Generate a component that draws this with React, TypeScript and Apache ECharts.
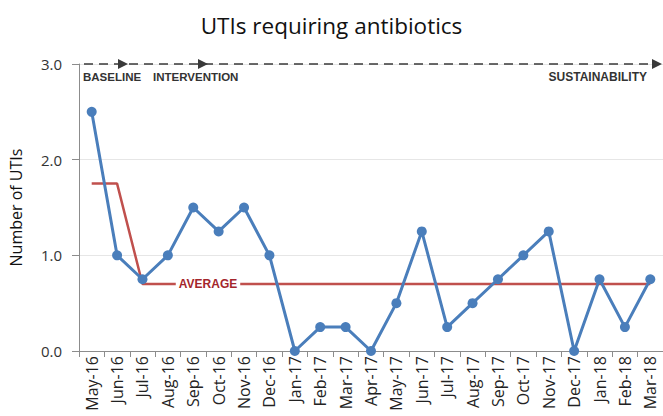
import React, { useEffect, useRef } from "react";
import * as echarts from "echarts";

const months = ["May-16","Jun-16","Jul-16","Aug-16","Sep-16","Oct-16","Nov-16","Dec-16","Jan-17","Feb-17","Mar-17","Apr-17","May-17","Jun-17","Jul-17","Aug-17","Sep-17","Oct-17","Nov-17","Dec-17","Jan-18","Feb-18","Mar-18"];
const utis = [2.5,1.0,0.75,1.0,1.5,1.25,1.5,1.0,0,0.25,0.25,0,0.5,1.25,0.25,0.5,0.75,1.0,1.25,0,0.75,0.25,0.75];
const average = [1.75,1.75,0.7,0.7,0.7,0.7,0.7,0.7,0.7,0.7,0.7,0.7,0.7,0.7,0.7,0.7,0.7,0.7,0.7,0.7,0.7,0.7,0.7];
const phaseLabels = ["BASELINE", "INTERVENTION", "SUSTAINABILITY"];
const yTicks = [0, 1, 2, 3];

export default function App() {
  const ref = useRef<HTMLDivElement>(null);
  useEffect(() => {
    if (!ref.current) return;
    const chart = echarts.init(ref.current, null, { renderer: "svg" });
    const arrow = (x: number, y: number) => ({
      type: "polygon",
      shape: { points: [[x - 9, y - 5], [x + 1, y], [x - 9, y + 5]] },
      style: { fill: "#3a3a3a" },
      z: 10,
    });
    const phaseStyle = { fontFamily: "Liberation Sans", fontSize: 11.5, fontWeight: "bold", fill: "#333" };
    chart.setOption({
      animation: false,
      backgroundColor: "#ffffff",
      title: {
        text: "UTIs requiring antibiotics",
        left: "center",
        top: 9,
        textStyle: { fontFamily: "Open Sans", fontSize: 22.5, fontWeight: "normal", color: "#111" },
      },
      grid: { left: 79, right: -3, top: 64, bottom: 65, containLabel: false },
      xAxis: {
        type: "category",
        data: months,
        boundaryGap: true,
        axisLine: { lineStyle: { color: "#8c8c8c", width: 1 } },
        axisTick: { show: true, length: 6, lineStyle: { color: "#8c8c8c" } },
        axisLabel: { rotate: 90, fontFamily: "Open Sans", fontSize: 16, color: "#222", margin: 5, interval: 0 },
      },
      yAxis: {
        type: "value",
        min: yTicks[0],
        max: yTicks[yTicks.length - 1],
        interval: 1,
        name: "Number of UTIs",
        nameLocation: "middle",
        nameGap: 55,
        nameTextStyle: { fontFamily: "Open Sans", fontSize: 16, color: "#111" },
        axisLine: { show: true, lineStyle: { color: "#8c8c8c", width: 1 } },
        axisTick: { show: true, length: 7, lineStyle: { color: "#8c8c8c" } },
        axisLabel: {
          formatter: (v: number) => v.toFixed(1),
          fontFamily: "Open Sans",
          fontSize: 15,
          color: "#333",
          margin: 17,
        },
        splitLine: { show: true, lineStyle: { color: "#e6e6e6", width: 1 } },
      },
      series: [
        {
          type: "line",
          name: "Average",
          data: average,
          symbol: "none",
          lineStyle: { color: "#c0504d", width: 2.5 },
          z: 2,
        },
        {
          type: "line",
          name: "UTIs",
          data: utis,
          symbol: "circle",
          symbolSize: 10,
          lineStyle: { color: "#4a7ebb", width: 3 },
          itemStyle: { color: "#4a7ebb" },
          z: 3,
        },
      ],
      graphic: [
        {
          type: "line",
          shape: { x1: 84, y1: 64, x2: 652, y2: 64 },
          style: { stroke: "#3a3a3a", lineWidth: 1.5, lineDash: [9, 6] },
          z: 9,
        },
        arrow(127, 64),
        arrow(207, 64),
        arrow(661, 64),
        { type: "text", left: 83, top: 71, style: { text: phaseLabels[0], ...phaseStyle } },
        { type: "text", left: 153, top: 71, style: { text: phaseLabels[1], ...phaseStyle } },
        { type: "text", right: 16, top: 71, style: { text: phaseLabels[2], ...phaseStyle, fontSize: 12 } },
        {
          type: "text",
          x: 208,
          y: 284,
          style: {
            text: "AVERAGE",
            fontFamily: "Liberation Sans",
            fontSize: 12,
            fontWeight: "bold",
            fill: "#a4262c",
            align: "center",
            verticalAlign: "middle",
            backgroundColor: "#ffffff",
            padding: [1, 3],
          },
          z: 20,
        },
      ],
    });
    return () => chart.dispose();
  }, []);
  return <div ref={ref} style={{ width: 663, height: 416, position: "absolute", left: 0, top: 0 }} />;
}
